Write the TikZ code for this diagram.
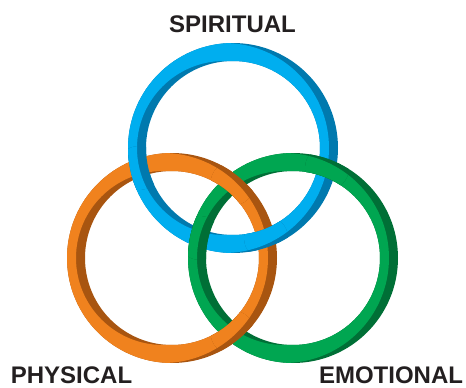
\documentclass[tikz,border=0pt]{standalone}
\usepackage{fontspec}
\setmainfont{Liberation Sans}
\usepackage{tikz}
\usetikzlibrary{calc}

\definecolor{blueLight}{HTML}{00AEEF}
\definecolor{blueDark}{HTML}{0079AE}
\definecolor{orangeLight}{HTML}{F0821E}
\definecolor{orangeDark}{HTML}{A85510}
\definecolor{greenLight}{HTML}{00A651}
\definecolor{greenDark}{HTML}{006F36}
\definecolor{labelGray}{HTML}{231F20}

\tikzset{
  ringlabel/.style={font=\bfseries\fontsize{24}{28}\selectfont, text=labelGray, inner sep=0pt, anchor=base}
}

% annulus with the hole cut out (outer arc one way, inner arc the other way)
\newcommand{\ringpath}[1]{(#1) ++(105,0) arc[start angle=0,end angle=360,radius=105] -- cycle
  (#1) ++(87,0) arc[start angle=0,end angle=-360,radius=87] -- cycle}

% ring: dark band, lit part shifted to the left
\newcommand{\drawring}[3]{%
  \fill[#3] \ringpath{#1};
  \begin{scope}
    \clip \ringpath{#1};
    \fill[#2, even odd rule] ($(#1)+(-9,0)$) circle[radius=105] circle[radius=87];
  \end{scope}}

% ring redrawn on top near one crossing
\newcommand{\overring}[4]{%
  \begin{scope}
    \clip (#4) circle[radius=22];
    \drawring{#1}{#2}{#3}
  \end{scope}}

\begin{document}
\begin{tikzpicture}[x=1pt, y=-1pt]
\useasboundingbox (0,0) rectangle (466,388);

\coordinate (spiritC) at (233,148);
\coordinate (physC) at (172,258);
\coordinate (emoC) at (293,258);

\drawring{spiritC}{blueLight}{blueDark}
\drawring{physC}{orangeLight}{orangeDark}
\drawring{emoC}{greenLight}{greenDark}

% crossings
\coordinate (x1) at (139,168);
\coordinate (x2) at (266,238);
\coordinate (x3) at (200,238);
\coordinate (x4) at (327,168);
\coordinate (x5) at (232.5,183.5);
\coordinate (x6) at (232.5,332.5);

\overring{spiritC}{blueLight}{blueDark}{x1}
\overring{spiritC}{blueLight}{blueDark}{x2}
\overring{emoC}{greenLight}{greenDark}{x3}
\overring{emoC}{greenLight}{greenDark}{x4}
\overring{physC}{orangeLight}{orangeDark}{x5}
\overring{physC}{orangeLight}{orangeDark}{x6}

\node[ringlabel] (spiritual) at (232.5,32) {SPIRITUAL};
\node[ringlabel] (physical) at (71.5,383) {PHYSICAL};
\node[ringlabel] (emotional) at (391,383) {EMOTIONAL};
\end{tikzpicture}
\end{document}
